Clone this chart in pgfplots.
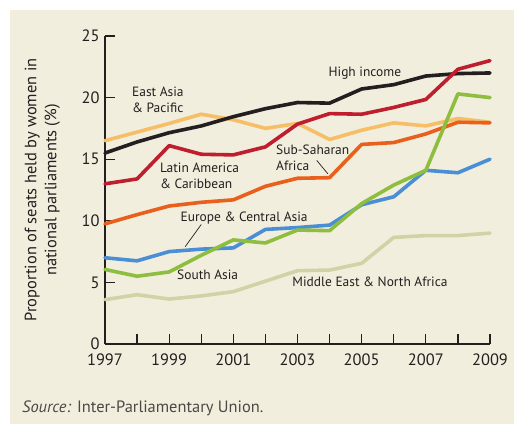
\documentclass[border=0pt]{standalone}
\usepackage{fontspec}
\setmainfont{PT Sans}
\usepackage{pgfplots}
\pgfplotsset{compat=1.18}

\definecolor{bgcream}{HTML}{F2EEDD}
\definecolor{axisdark}{HTML}{231F20}
\definecolor{hiblack}{HTML}{231F20}
\definecolor{latred}{HTML}{BE1E2D}
\definecolor{eapyellow}{HTML}{F6BE66}
\definecolor{ssaorange}{HTML}{E8601C}
\definecolor{ecablue}{HTML}{4A8ED6}
\definecolor{sasgreen}{HTML}{8DBE3F}
\definecolor{menakhaki}{HTML}{D3D2A6}

\begin{document}
\begin{tikzpicture}
  % background
  \fill[white] (0,0) rectangle (514bp,424bp);
  \fill[bgcream] (10bp,0) rectangle (514bp,414bp);

  \begin{axis}[
    at={(105bp,80bp)}, anchor=south west,
    scale only axis, width=385bp, height=308bp,
    xmin=1997, xmax=2009, ymin=0, ymax=25,
    axis x line*=bottom, axis y line*=left,
    axis line style={axisdark, line width=1.4bp, -},
    xtick={1997,1999,...,2009},
    minor xtick={1998,2000,...,2008},
    ytick={0,5,...,25},
    xticklabel style={/pgf/number format/1000 sep={}},
    /pgf/number format/assume math mode=true,
    tick label style={font=\fontsize{16.5}{19}\selectfont, text=axisdark},
    tick align=inside,
    major tick length=10bp, minor tick length=10bp,
    tick style={axisdark, line width=1.3bp},
    every x tick label/.append style={yshift=-6bp},
    every y tick label/.append style={xshift=-2bp},
    ylabel={Proportion of seats held by women in\\national parliaments (\%)},
    ylabel style={align=center, font=\fontsize{16.5}{20}\selectfont, text=axisdark,
      at={(axis description cs:-0.108,0.5)}, anchor=south, rotate=0},
    every axis plot/.append style={line width=3.6bp, line join=round, line cap=round, no markers},
    clip=false,
  ]

    % Middle East & North Africa
    \addplot[menakhaki] coordinates {(1997,3.6) (1998,4.0) (1999,3.65) (2000,3.9) (2001,4.25) (2002,5.1) (2003,5.95) (2004,6.0) (2005,6.55) (2006,8.65) (2007,8.8) (2008,8.8) (2009,9.0)};

    % East Asia & Pacific
    \addplot[eapyellow] coordinates {(1997,16.5) (1998,17.2) (1999,17.9) (2000,18.65) (2001,18.2) (2002,17.5) (2003,17.9) (2004,16.6) (2005,17.35) (2006,17.95) (2007,17.7) (2008,18.3) (2009,18.0)};

    % High income
    \addplot[hiblack] coordinates {(1997,15.5) (1998,16.4) (1999,17.15) (2000,17.7) (2001,18.45) (2002,19.1) (2003,19.6) (2004,19.55) (2005,20.7) (2006,21.05) (2007,21.75) (2008,21.95) (2009,22.0)};

    % Sub-Saharan Africa
    \addplot[ssaorange] coordinates {(1997,9.75) (1998,10.5) (1999,11.2) (2000,11.5) (2001,11.7) (2002,12.8) (2003,13.45) (2004,13.5) (2005,16.2) (2006,16.35) (2007,17.05) (2008,18.0) (2009,17.95)};

    % Europe & Central Asia
    \addplot[ecablue] coordinates {(1997,7.0) (1998,6.75) (1999,7.5) (2000,7.7) (2001,7.8) (2002,9.3) (2003,9.45) (2004,9.65) (2005,11.3) (2006,11.95) (2007,14.1) (2008,13.9) (2009,15.0)};

    % South Asia
    \addplot[sasgreen] coordinates {(1997,6.05) (1998,5.5) (1999,5.85) (2000,7.2) (2001,8.45) (2002,8.2) (2003,9.25) (2004,9.2) (2005,11.4) (2006,12.9) (2007,14.1) (2008,20.3) (2009,20.0)};

    % Latin America & Caribbean
    \addplot[latred] coordinates {(1997,13.0) (1998,13.4) (1999,16.1) (2000,15.4) (2001,15.35) (2002,16.0) (2003,17.85) (2004,18.7) (2005,18.65) (2006,19.2) (2007,19.85) (2008,22.3) (2009,23.0)};

    \begin{scope}[every node/.style={font=\fontsize{13.5}{16}\selectfont, text=axisdark, inner sep=0pt}]
      \node[anchor=west, align=left] at (axis cs:1997.84,19.85) {East Asia\\\& Pacific};
      \node at (axis cs:2005.1,22.0) {High income};
      \node[anchor=west, align=left] at (axis cs:1998.71,13.65) {Latin America\\\& Caribbean};
      \node[anchor=west, align=left] at (axis cs:2002.33,15.1) {Sub-Saharan\\Africa};
      \node[anchor=west] at (axis cs:1999.35,10.2) {Europe \& Central Asia};
      \node at (axis cs:2000.2,5.6) {South Asia};
      \node at (axis cs:2005.26,5.03) {Middle East \& North Africa};
    \end{scope}
    \draw[axisdark, line width=0.7bp] (axis cs:2003.6,14.9) -- (axis cs:2003.95,13.8);
    \draw[axisdark, line width=0.7bp] (axis cs:2000.0,9.7) -- (axis cs:1999.5,7.9);
  \end{axis}

  \node[anchor=base west, inner sep=0pt, text=axisdark!80!bgcream, font=\fontsize{16.5}{18}\selectfont]
    at (22bp,12bp) {\textit{Source:} Inter-Parliamentary Union.};
\end{tikzpicture}
\end{document}
